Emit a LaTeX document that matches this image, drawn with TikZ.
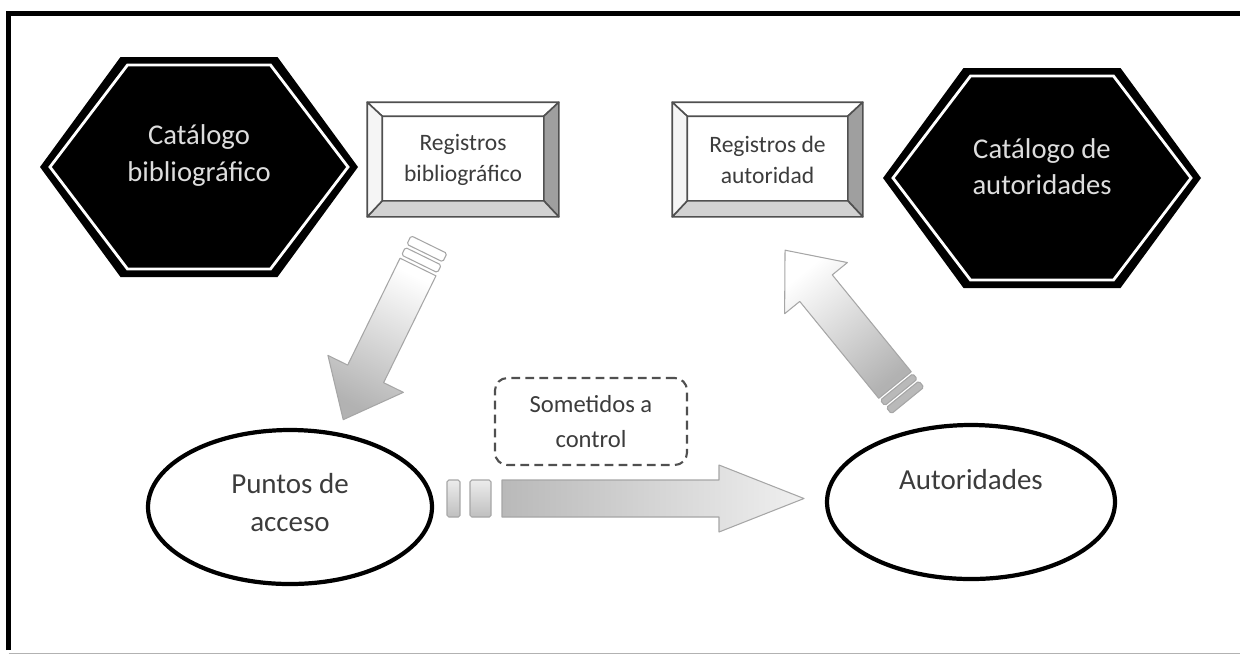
\documentclass[tikz,border=0pt]{standalone}
\usepackage{fontspec}
\setmainfont{Carlito}
\usetikzlibrary{shapes.geometric,calc}
\definecolor{hextxt}{HTML}{DDDDDD}
\definecolor{boxtxt}{HTML}{3C3C3C}
\definecolor{edgegray}{HTML}{505050}
\tikzset{
  catalogo/.style={fill=black},
  catline/.style={draw=white, line width=1.6pt},
  cattext/.style={text=hextxt, align=center, font=\fontsize{16.3}{20.5}\selectfont},
  registro/.style={draw=edgegray, line width=0.9pt, minimum width=#1, minimum height=2.26cm, inner sep=0pt, align=center, text=boxtxt, font=\fontsize{13.4}{17.6}\selectfont},
  bisel/.style={draw=edgegray, line width=0.9pt, line join=round},
  punto/.style={ellipse, draw=black, line width=2.4pt, minimum width=#1, minimum height=3.08cm, inner sep=0pt},
  ptext/.style={align=center, text=boxtxt, font=\fontsize{16.5}{22}\selectfont},
  control/.style={draw=edgegray, dashed, dash pattern=on 5pt off 3pt, line width=1.2pt, rounded corners=7pt, minimum width=3.84cm, minimum height=1.74cm, align=center, text=boxtxt, font=\fontsize{14}{20}\selectfont},
  flecha/.style={draw=gray!70, line width=0.6pt, line join=round},
  franja/.style={draw=gray!70, line width=0.6pt, rounded corners=1pt}
}
\newcommand{\hexcat}[3]{%
  \begin{scope}[shift={#2}]
    \fill[catalogo] (-3.18,0) -- (-1.57,2.2) -- (1.57,2.2) -- (3.18,0) -- (1.57,-2.2) -- (-1.57,-2.2) -- cycle;
    \draw[catline] (-2.98,0) -- (-1.43,2.04) -- (1.43,2.04) -- (2.98,0) -- (1.43,-2.04) -- (-1.43,-2.04) -- cycle;
    \node[cattext] (#1) at (0,0.23) {#3};
  \end{scope}}
\newcommand{\regbox}[4]{%
  \node[registro=#3] (#1) at #2 {#4};
  \filldraw[bisel, fill=white] (#1.north west) -- (#1.north east) -- ($(#1.north east)+(-0.3,-0.28)$) -- ($(#1.north west)+(0.3,-0.28)$) -- cycle;
  \filldraw[bisel, fill=gray!75] (#1.north east) -- (#1.south east) -- ($(#1.south east)+(-0.3,0.32)$) -- ($(#1.north east)+(-0.3,-0.28)$) -- cycle;
  \filldraw[bisel, fill=gray!35] (#1.south east) -- (#1.south west) -- ($(#1.south west)+(0.3,0.32)$) -- ($(#1.south east)+(-0.3,0.32)$) -- cycle;
  \filldraw[bisel, fill=gray!8] (#1.south west) -- (#1.north west) -- ($(#1.north west)+(0.3,-0.28)$) -- ($(#1.south west)+(0.3,0.32)$) -- cycle;}
\newcommand{\blockarrow}[9]{%
  \begin{scope}[shift={(#1)}, rotate=#2]
    \foreach \a/\b in {#9} {\draw[franja, #8] (\a,-#4) rectangle (\b,#4);}
    \draw[flecha, #7] (0,-#4) -- ({#3-#6},-#4) -- ({#3-#6},-#5) -- (#3,0) -- ({#3-#6},#5) -- ({#3-#6},#4) -- (0,#4) -- cycle;
  \end{scope}}
\begin{document}
\begin{tikzpicture}
\useasboundingbox (0,0) rectangle (24.8,-13.12);
\draw[line width=2.8pt] (0.17,-13.0) -- (0.17,-0.27) -- (24.8,-0.27);
\draw[gray!60, line width=0.8pt] (0.17,-13.07) -- (24.8,-13.07);

\hexcat{catbib}{(3.98,-3.34)}{Catálogo\\bibliográfico}
\hexcat{cataut}{(20.84,-3.56)}{Catálogo de\\autoridades}

\regbox{regbib}{(9.26,-3.19)}{3.8cm}{Registros\\bibliográfico}
\regbox{regaut}{(15.35,-3.19)}{3.78cm}{Registros de\\autoridad}

\node[punto=5.68cm] (puntos) at (5.8,-10.14) {};
\node[ptext] (puntostxt) at ([yshift=0.09cm]puntos.center) {Puntos de\\acceso};
\node[punto=5.76cm] (autor) at (19.42,-10.04) {};
\node[ptext] (autortxt) at ([yshift=0.44cm]autor.center) {Autoridades};

\node[control] (someter) at (11.82,-8.43) {Sometidos a\\control};

\coordinate (bajada) at (8.36,-5.34);
\coordinate (subida) at (17.9,-7.7);
\coordinate (paso) at (10.04,-9.97);
\blockarrow{bajada}{243.9}{3.4}{0.4}{0.84}{1.02}{top color=gray!60, bottom color=white, shading angle=153.9}{fill=white}{-0.07/-0.24,-0.31/-0.5}
\blockarrow{subida}{129.2}{3.48}{0.42}{0.81}{0.98}{top color=white, bottom color=gray!60, shading angle=39.2}{fill=gray!55}{-0.05/-0.19,-0.24/-0.4}
\blockarrow{paso}{0}{6.04}{0.37}{0.67}{1.7}{top color=gray!12, bottom color=gray!55, shading angle=-90}{top color=gray!15, bottom color=gray!50}{-0.22/-0.64,-0.84/-1.1}
\end{tikzpicture}
\end{document}
